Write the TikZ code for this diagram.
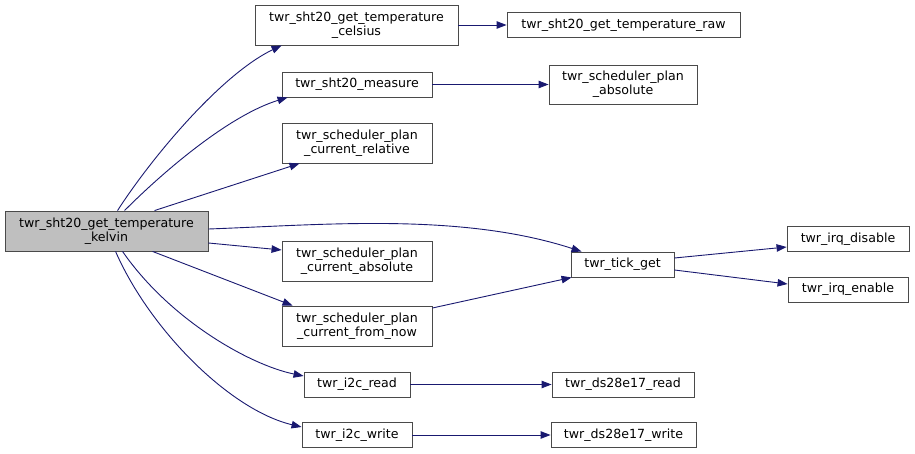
\documentclass[tikz,border=0pt]{standalone}
\usepackage{fontspec}
\setmainfont{DejaVu Sans}
\usetikzlibrary{arrows.meta}
\definecolor{edgecol}{HTML}{191970}
\definecolor{boxline}{HTML}{4A4A4A}
\definecolor{rootfill}{HTML}{BFBFBF}
\tikzset{
  fn/.style={draw=boxline, line width=0.9pt, fill=white, inner sep=0pt, align=center,
    font=\fontsize{12.6}{13.6}\selectfont, text=black},
  rootfn/.style={fn, fill=rootfill},
  call/.style={draw=edgecol, line width=0.9pt, -{Triangle[length=10pt,width=7.5pt]}, fill=none}
}
\begin{document}
\begin{tikzpicture}[x=1pt,y=-1pt]
\useasboundingbox (0,0) rectangle (915,454);
\node[rootfn, minimum width=203pt, minimum height=40pt] (root) at (106.5,231) {twr\_sht20\_get\_temperature\\\_kelvin};
\node[fn, minimum width=203pt, minimum height=40pt] (celsius) at (356.5,25) {twr\_sht20\_get\_temperature\\\_celsius};
\node[fn, minimum width=233pt, minimum height=25pt] (raw) at (623.5,25) {twr\_sht20\_get\_temperature\_raw};
\node[fn, minimum width=150pt, minimum height=25pt] (measure) at (357,84.5) {twr\_sht20\_measure};
\node[fn, minimum width=148pt, minimum height=39pt] (planabs) at (623,84.5) {twr\_scheduler\_plan\\\_absolute};
\node[fn, minimum width=150pt, minimum height=40pt] (currel) at (357,143) {twr\_scheduler\_plan\\\_current\_relative};
\node[fn, minimum width=150pt, minimum height=40pt] (curabs) at (357,261) {twr\_scheduler\_plan\\\_current\_absolute};
\node[fn, minimum width=150pt, minimum height=40pt] (fromnow) at (357,326) {twr\_scheduler\_plan\\\_current\_from\_now};
\node[fn, minimum width=103pt, minimum height=25pt] (tick) at (622.5,264.5) {twr\_tick\_get};
\node[fn, minimum width=122pt, minimum height=25pt] (irqdis) at (848,239) {twr\_irq\_disable};
\node[fn, minimum width=120pt, minimum height=25pt] (irqen) at (848,289.5) {twr\_irq\_enable};
\node[fn, minimum width=106pt, minimum height=25pt] (i2cread) at (357,384.5) {twr\_i2c\_read};
\node[fn, minimum width=110pt, minimum height=25pt] (i2cwrite) at (357,435) {twr\_i2c\_write};
\node[fn, minimum width=142pt, minimum height=25pt] (dsread) at (623,384.5) {twr\_ds28e17\_read};
\node[fn, minimum width=145pt, minimum height=25pt] (dswrite) at (623.5,435) {twr\_ds28e17\_write};

\draw[call] ([xshift=113pt]root.north west) .. controls (150,160) and (220,75) .. ([xshift=27pt]celsius.south west);
\draw[call] ([xshift=120pt]root.north west) .. controls (165,170) and (230,115) .. ([xshift=6pt]measure.south west);
\draw[call] ([xshift=150pt]root.north west) -- ([xshift=18pt]currel.south west);
\draw[call] ([yshift=2pt]root.east) .. controls (320,225) and (460,212) .. ([xshift=11pt]tick.north west);
\draw[call] ([yshift=-12pt]root.east) -- ([yshift=11pt]curabs.west);
\draw[call] ([xshift=148pt]root.south west) -- ([xshift=11pt]fromnow.north west);
\draw[call] ([xshift=118pt]root.south west) .. controls (170,320) and (250,365) .. ([yshift=8.5pt]i2cread.west);
\draw[call] ([xshift=111pt]root.south west) .. controls (150,330) and (230,410) .. ([yshift=8pt]i2cwrite.west);
\draw[call] (celsius.east) -- (raw.west);
\draw[call] (measure.east) -- (planabs.west);
\draw[call] ([yshift=18pt]fromnow.east) -- ([xshift=1pt]tick.south west);
\draw[call] ([yshift=6.5pt]tick.east) -- ([yshift=-8pt]irqdis.west);
\draw[call] ([yshift=-5.5pt]tick.east) -- ([yshift=5.5pt]irqen.west);
\draw[call] (i2cread.east) -- (dsread.west);
\draw[call] (i2cwrite.east) -- (dswrite.west);
\end{tikzpicture}
\end{document}
